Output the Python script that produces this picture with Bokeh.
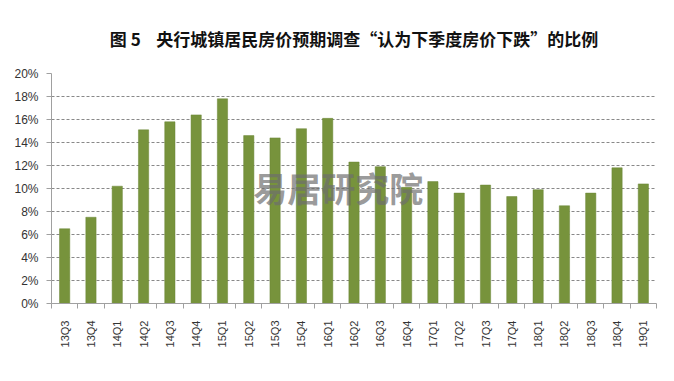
from bokeh.plotting import figure
from bokeh.models import Range1d, FixedTicker, PrintfTickFormatter, Label, Title
from bokeh.embed import file_html
from bokeh.resources import INLINE
import math

quarters = ["13Q3", "13Q4", "14Q1", "14Q2", "14Q3", "14Q4", "15Q1", "15Q2", "15Q3", "15Q4",
            "16Q1", "16Q2", "16Q3", "16Q4", "17Q1", "17Q2", "17Q3", "17Q4",
            "18Q1", "18Q2", "18Q3", "18Q4", "19Q1"]
share_pct = [6.5, 7.5, 10.2, 15.1, 15.8, 16.4, 17.8, 14.6, 14.4, 15.2,
             16.1, 12.3, 11.9, 10.1, 10.6, 9.6, 10.3, 9.3,
             9.9, 8.5, 9.6, 11.8, 10.4]
y_ticks = [0, 2, 4, 6, 8, 10, 12, 14, 16, 18, 20]
title_text = "图 5\u00a0\u00a0\u00a0\u00a0央行城镇居民房价预期调查“认为下季度房价下跌”的比例"
watermark = "易居研究院"

n = len(quarters)
centers = [i + 0.5 for i in range(n)]
bounds = [float(i) for i in range(n + 1)]

p = figure(frame_width=605, frame_height=230, output_backend="svg", toolbar_location=None,
           x_range=Range1d(0, n), y_range=Range1d(0, 20),
           min_border_left=51, min_border_right=2, min_border_top=10, min_border_bottom=60)
p.outline_line_color = None
p.background_fill_color = "white"

t = Title(text=title_text, align="center", text_font="Noto Sans CJK SC",
          text_font_size="17px", text_font_style="bold", text_color="#111111",
          standoff=46)
p.add_layout(t, "above")

p.vbar(x=centers, top=share_pct, width=0.39, bottom=0,
       fill_color="#77933C", line_color="#6b8736", line_width=0.5)

# y axis
p.yaxis.ticker = FixedTicker(ticks=y_ticks)
p.yaxis.formatter = PrintfTickFormatter(format="%d%%")
p.yaxis.axis_line_color = "#a0a0a0"
p.yaxis.major_tick_line_color = "#a0a0a0"
p.yaxis.major_tick_out = 5
p.yaxis.major_tick_in = 0
p.yaxis.minor_tick_line_color = None
p.yaxis.major_label_text_font = "Liberation Sans"
p.yaxis.major_label_text_font_size = "12px"
p.yaxis.major_label_text_color = "#333333"
p.yaxis.major_label_standoff = 8

# x axis
p.xaxis.ticker = FixedTicker(ticks=centers, minor_ticks=bounds)
p.xaxis.major_label_overrides = {c: q for c, q in zip(centers, quarters)}
p.xaxis.major_label_orientation = math.pi / 2
p.xaxis.major_tick_out = 0
p.xaxis.major_tick_in = 0
p.xaxis.minor_tick_out = 5
p.xaxis.minor_tick_in = 0
p.xaxis.minor_tick_line_color = "#a0a0a0"
p.xaxis.axis_line_color = "#a0a0a0"
p.xaxis.major_label_text_font = "Liberation Sans"
p.xaxis.major_label_text_font_size = "11px"
p.xaxis.major_label_text_color = "#333333"
p.xaxis.major_label_standoff = 12

# grid
p.xgrid.grid_line_color = None
p.ygrid.grid_line_color = "#888888"
p.ygrid.grid_line_dash = "3 2"
p.ygrid.grid_line_width = 1

wm = Label(x=10.9, y=10.1, text=watermark, text_align="center", text_baseline="middle",
           text_font="Noto Sans CJK SC", text_font_size="34px", text_font_style="bold",
           text_color="#6e6e6e", text_alpha=0.7)
p.add_layout(wm)

open("out.html", "w").write(file_html(p, INLINE))
